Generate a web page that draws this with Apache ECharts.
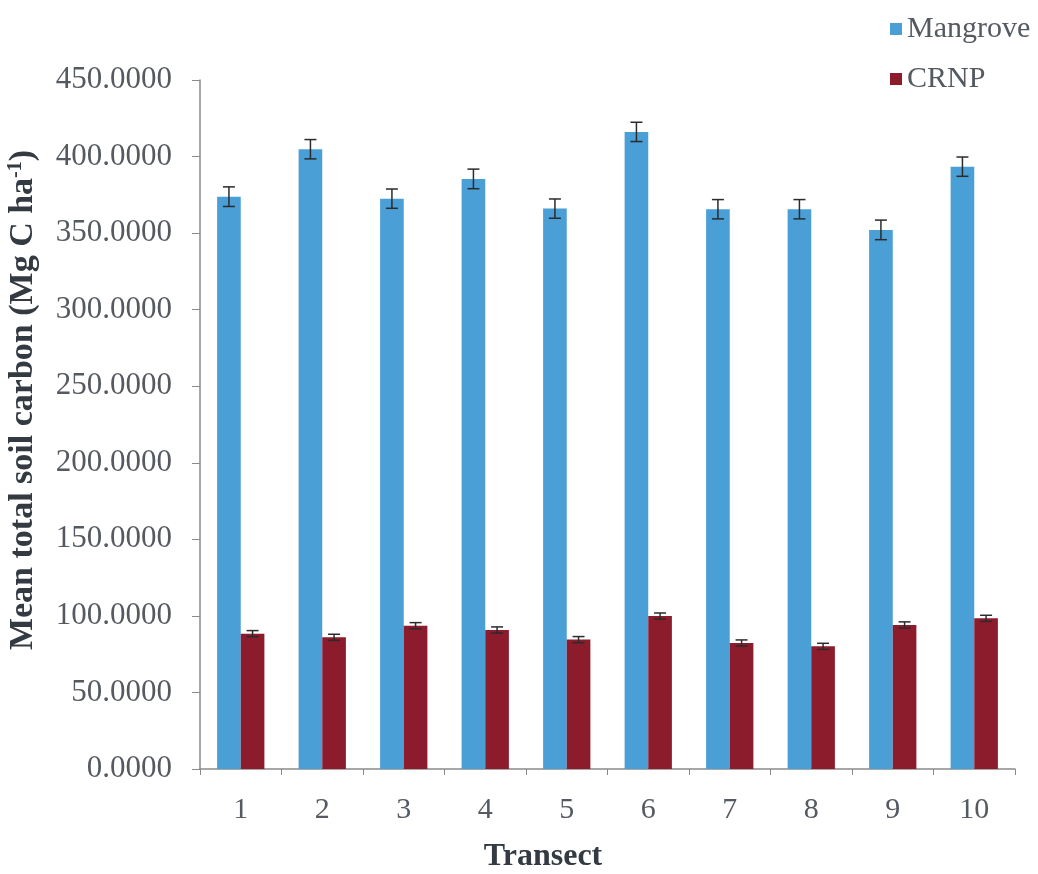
<!DOCTYPE html>
<html>
<head>
<meta charset="utf-8">
<script src="https://cdn.jsdelivr.net/npm/echarts@6/dist/echarts.min.js"></script>
<style>
  html, body { margin: 0; padding: 0; background: #fff; }
  #chart { width: 1038px; height: 874px; }
</style>
</head>
<body>
<div id="chart"></div>
<script>
// Transects along the x axis
const transects = ['1', '2', '3', '4', '5', '6', '7', '8', '9', '10'];
// Mean total soil carbon (Mg C ha-1) per transect
const mangroveValues = [373.8, 404.8, 372.5, 385.4, 366.0, 416.1, 365.6, 365.6, 352.1, 393.4];
const crnpValues = [88.4, 86.0, 93.6, 90.8, 84.5, 99.9, 82.3, 80.1, 94.1, 98.4];
// Standard errors
const mangroveErrors = [6.4, 6.3, 6.3, 6.4, 6.3, 6.3, 6.3, 6.3, 6.4, 6.3];
const crnpErrors = [2.0, 2.0, 2.0, 2.0, 2.0, 2.0, 2.0, 2.0, 2.0, 2.0];

const seriesNames = ['Mangrove', 'CRNP'];
const colors = ['#4a9fd6', '#8c1b2c'];
const barCategoryGap = 0.42;
const serif = '"Liberation Serif", "Times New Roman", serif';

const chart = echarts.init(document.getElementById('chart'));

// Error bar drawn at the centre of each bar in a two-bar group
function errorBarSeries(values, errors, slot) {
  return {
    type: 'custom',
    silent: true,
    z: 5,
    data: values.map((v, i) => [i, v, errors[i]]),
    renderItem: function (params, api) {
      const idx = api.value(0);
      const v = api.value(1);
      const e = api.value(2);
      const band = api.size([1, 0])[0];
      const barW = band * (1 - barCategoryGap) / 2;
      const base = api.coord([idx, v]);
      const cx = base[0] + (slot === 0 ? -barW / 2 : barW / 2);
      const top = api.coord([idx, v + e])[1];
      const bot = api.coord([idx, v - e])[1];
      const cap = 6;
      const style = { stroke: '#2b2b2b', lineWidth: 1.5 };
      return {
        type: 'group',
        children: [
          { type: 'line', shape: { x1: cx, y1: top, x2: cx, y2: bot }, style: style },
          { type: 'line', shape: { x1: cx - cap, y1: top, x2: cx + cap, y2: top }, style: style },
          { type: 'line', shape: { x1: cx - cap, y1: bot, x2: cx + cap, y2: bot }, style: style }
        ]
      };
    }
  };
}

const option = {
  animation: false,
  backgroundColor: '#ffffff',
  grid: { left: 200, right: 23, top: 80, bottom: 105 },
  legend: {
    data: seriesNames,
    orient: 'vertical',
    left: 885,
    top: 9,
    itemWidth: 12,
    itemHeight: 12,
    itemGap: 20,
    icon: 'rect',
    textStyle: { fontFamily: serif, fontSize: 30, color: '#555a60' }
  },
  xAxis: {
    type: 'category',
    data: transects,
    axisLine: { lineStyle: { color: '#8a8a8a', width: 1.5 } },
    axisTick: { show: true, length: 6, lineStyle: { color: '#8a8a8a' } },
    axisLabel: { fontFamily: serif, fontSize: 30, color: '#555a60', margin: 26 }
  },
  yAxis: {
    type: 'value',
    min: 0,
    max: 450,
    interval: 50,
    axisLine: { show: true, lineStyle: { color: '#8a8a8a', width: 1.5 } },
    axisTick: { show: true, length: 8, lineStyle: { color: '#8a8a8a' } },
    splitLine: { show: false },
    axisLabel: {
      fontFamily: serif, fontSize: 31, color: '#555a60', margin: 28,
      formatter: v => v.toFixed(4)
    }
  },
  graphic: [
    {
      type: 'text',
      x: 23,
      y: 400,
      rotation: Math.PI / 2,
      style: {
        text: '{b|Mean total soil carbon (Mg C ha}{s|-1}{b|)}',
        align: 'center',
        verticalAlign: 'middle',
        rich: {
          b: { fontFamily: serif, fontSize: 34, fontWeight: 'bold', fill: '#333a42' },
          s: { fontFamily: serif, fontSize: 20, fontWeight: 'bold', fill: '#333a42', verticalAlign: 'top', padding: [0, 0, 14, 0] }
        }
      }
    },
    {
      type: 'text',
      x: 543,
      y: 857,
      style: {
        text: 'Transect',
        align: 'center',
        verticalAlign: 'middle',
        font: 'bold 32px ' + serif,
        fill: '#333a42'
      }
    }
  ],
  series: [
    {
      name: seriesNames[0],
      type: 'bar',
      data: mangroveValues,
      itemStyle: { color: colors[0] },
      barGap: '0%',
      barCategoryGap: (barCategoryGap * 100) + '%'
    },
    {
      name: seriesNames[1],
      type: 'bar',
      data: crnpValues,
      itemStyle: { color: colors[1] },
      barGap: '0%',
      barCategoryGap: (barCategoryGap * 100) + '%'
    },
    errorBarSeries(mangroveValues, mangroveErrors, 0),
    errorBarSeries(crnpValues, crnpErrors, 1)
  ]
};

chart.setOption(option);
</script>
</body>
</html>
